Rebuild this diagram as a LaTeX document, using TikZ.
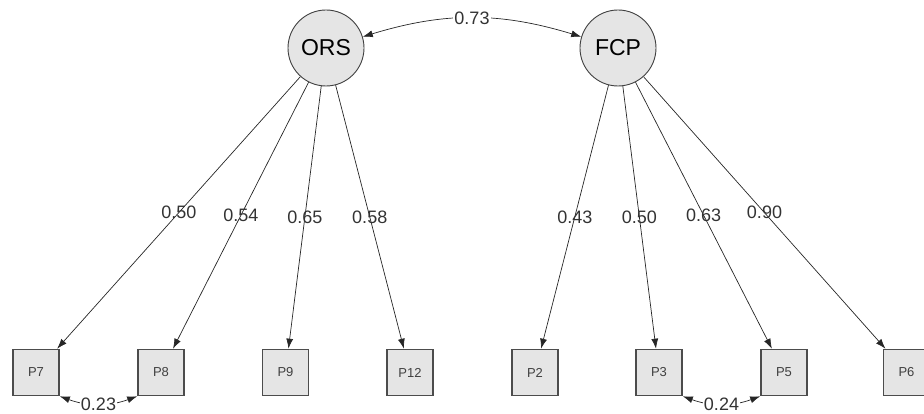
\documentclass[tikz,border=0pt]{standalone}
\usepackage{fontspec}
\setmainfont{Liberation Sans}
\usepackage{tikz}
\usetikzlibrary{positioning,arrows.meta}

\begin{document}
\begin{tikzpicture}[x=1pt,y=1pt,
    latent/.style={circle,draw=black!75,fill=black!10,line width=0.9pt,minimum size=76pt,inner sep=0pt,font=\fontsize{23}{25}\selectfont},
    item/.style={rectangle,draw=black!70,fill=black!10,line width=1.6pt,minimum size=46pt,inner sep=0pt,font=\fontsize{13}{15}\selectfont,text=black!75},
    load/.style={draw=black!85,line width=0.7pt,-{Latex[length=10pt,width=7pt]}},
    cov/.style={draw=black!85,line width=0.7pt,{Latex[length=10pt,width=7pt]}-{Latex[length=10pt,width=7pt]}},
    coef/.style={font=\fontsize{18}{20}\selectfont,text=black!80,inner sep=1pt}]
    \useasboundingbox (0,0) rectangle (924,414);

    \node[latent] at (326,366) (ORS) {ORS};
    \node[latent] at (618,366) (FCP) {FCP};

    \node[item] at (36,41.5) (P7) {P7};
    \node[item] at (161,41.5) (P8) {P8};
    \node[item] at (285.5,41.5) (P9) {P9};
    \node[item] at (410,41.5) (P12) {P12};
    \node[item] at (535,41.5) (P2) {P2};
    \node[item] at (659,41.5) (P3) {P3};
    \node[item] at (784,41.5) (P5) {P5};
    \node[item] at (906.5,41.5) (P6) {P6};

    \draw[load] (ORS) -- node[coef] {0.50} (P7);
    \draw[load] (ORS) -- node[coef] {0.54} (P8);
    \draw[load] (ORS) -- node[coef] {0.65} (P9);
    \draw[load] (ORS) -- node[coef] {0.58} (P12);
    \draw[load] (FCP) -- node[coef] {0.43} (P2);
    \draw[load] (FCP) -- node[coef] {0.50} (P3);
    \draw[load] (FCP) -- node[coef] {0.63} (P5);
    \draw[load] (FCP) -- node[coef] {0.90} (P6);

    \draw[cov] (ORS) to[bend left=17] node[coef,fill=white] {0.73} (FCP);
    \draw[cov] (P7.south east) to[bend right=20] node[coef,fill=white] {0.23} (P8.south west);
    \draw[cov] (P3.south east) to[bend right=20] node[coef,fill=white] {0.24} (P5.south west);
\end{tikzpicture}
\end{document}
